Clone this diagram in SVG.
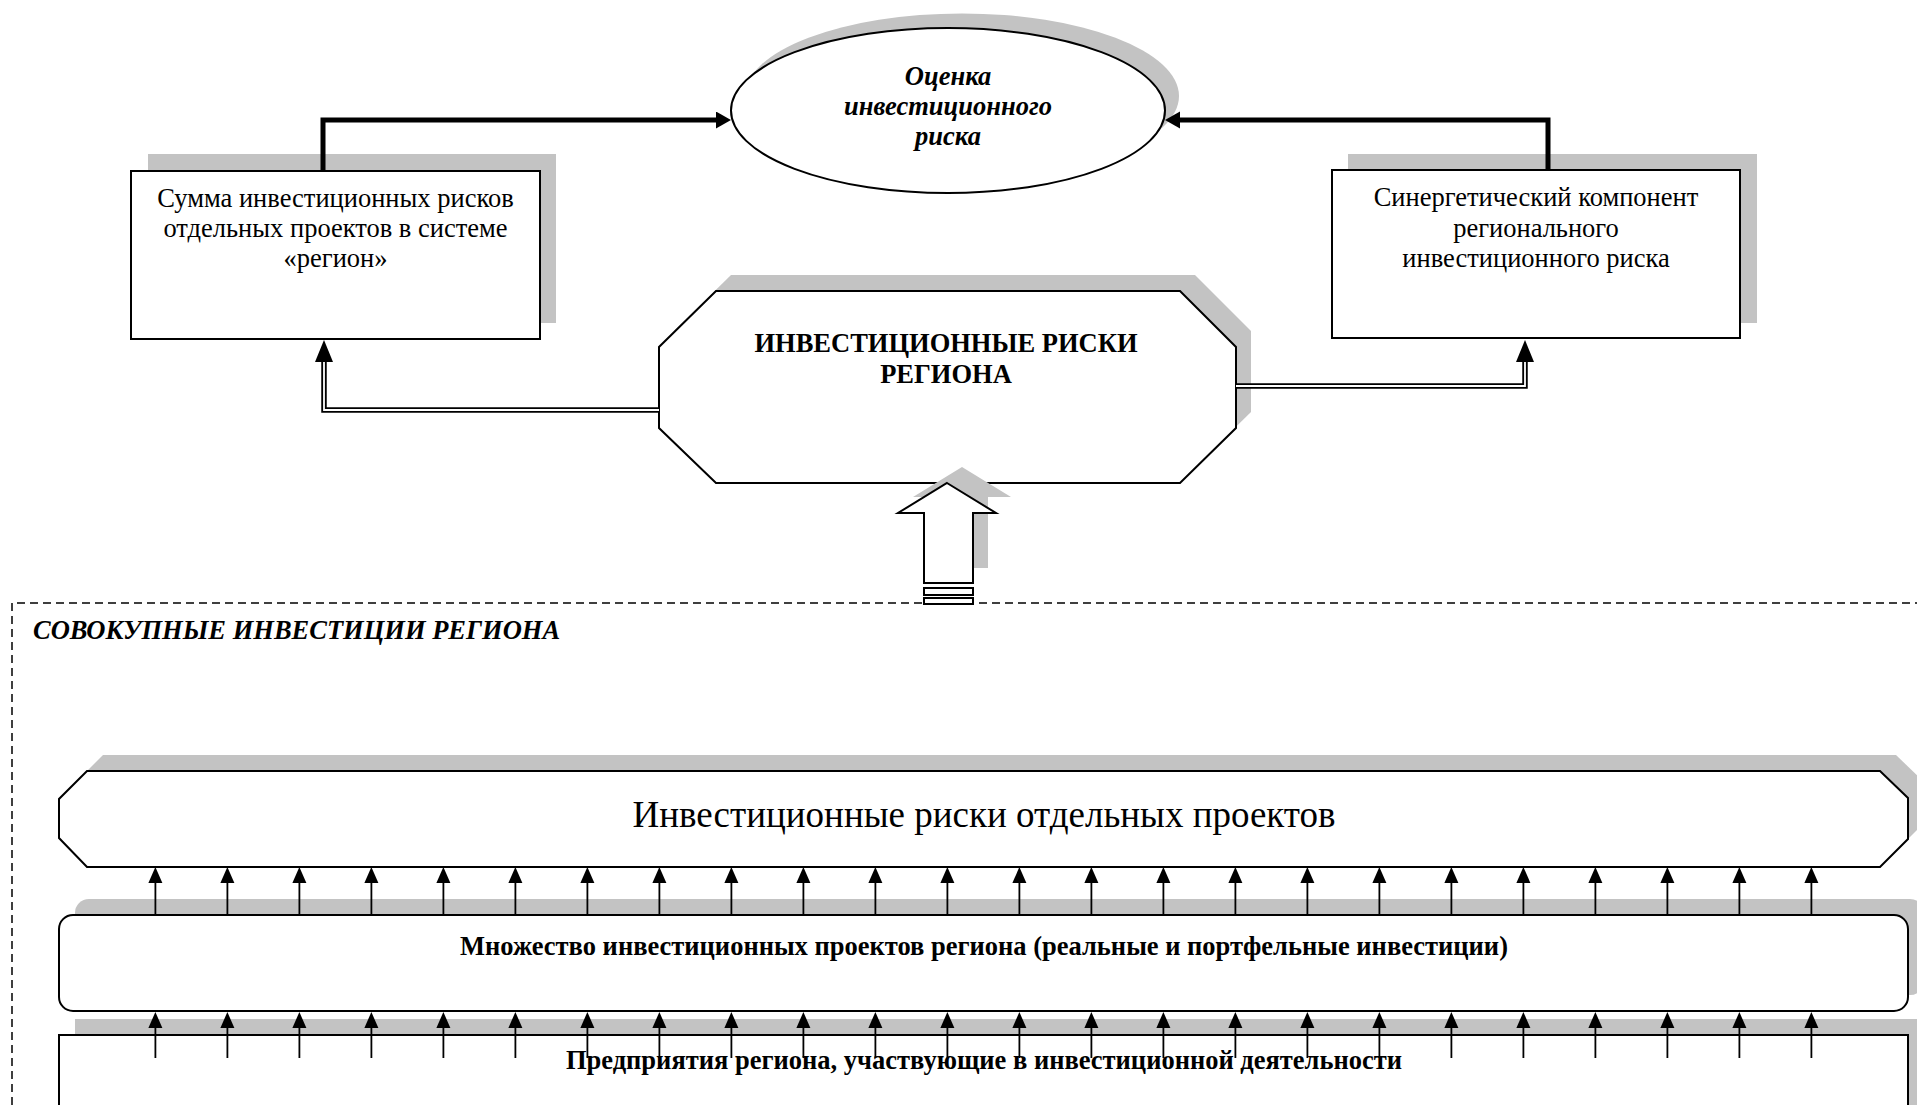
<svg xmlns="http://www.w3.org/2000/svg" width="1917" height="1105" viewBox="0 0 1917 1105">
  <defs>
    <marker id="thickHead" markerUnits="userSpaceOnUse" markerWidth="16" markerHeight="18" refX="0" refY="8.5" orient="auto">
      <path d="M0,0 L15,8.5 L0,17 z" fill="#000"/>
    </marker>
    <marker id="dblHead" markerUnits="userSpaceOnUse" markerWidth="23" markerHeight="19" refX="0" refY="9" orient="auto">
      <path d="M0,0 L22,9 L0,18 z" fill="#000"/>
    </marker>
    <marker id="smallHead" markerUnits="userSpaceOnUse" markerWidth="17" markerHeight="15" refX="0" refY="7" orient="auto">
      <path d="M0,0 L16,7 L0,14 z" fill="#000"/>
    </marker>
  </defs>
  <style>
    .shadow { fill: #c3c3c3; stroke: none; }
    .shape { fill: #fff; stroke: #000; stroke-width: 2; }
    .reg { font-family: "Liberation Serif", "Times New Roman", serif; font-size: 26.5px; fill: #000; text-anchor: middle; }
    .bold { font-family: "Liberation Serif", "Times New Roman", serif; font-size: 26.5px; font-weight: bold; fill: #000; text-anchor: middle; }
    .bi { font-family: "Liberation Serif", "Times New Roman", serif; font-size: 26.5px; font-weight: bold; font-style: italic; fill: #000; }
    .thick { fill: none; stroke: #000; stroke-width: 5; marker-end: url(#thickHead); }
    .dblOuter { fill: none; stroke: #000; stroke-width: 5.5; marker-end: url(#dblHead); }
    .dblInner { fill: none; stroke: #fff; stroke-width: 1.8; }
    .small { fill: none; stroke: #000; stroke-width: 1.8; marker-end: url(#smallHead); }
    .dashed { fill: none; stroke: #000; stroke-width: 1.5; stroke-dasharray: 8 5; }
  </style>

  <rect width="1917" height="1105" fill="#fff"/>

  <!-- container: total regional investments -->
  <g id="container">
    <path class="dashed" d="M12,1105 V603 H1930"/>
    <text class="bi" x="33" y="639">СОВОКУПНЫЕ ИНВЕСТИЦИИ РЕГИОНА</text>
  </g>

  <g id="node-assessment">
    <ellipse class="shadow" cx="962" cy="96" rx="217" ry="82.5"/>
    <ellipse class="shape" cx="948" cy="110.5" rx="217" ry="82.5"/>
    <text class="bi" text-anchor="middle" x="948" y="85">Оценка</text>
    <text class="bi" text-anchor="middle" x="948" y="115">инвестиционного</text>
    <text class="bi" text-anchor="middle" x="948" y="145">риска</text>
  </g>

  <g id="node-sum">
    <rect class="shadow" x="148" y="154" width="408" height="169"/>
    <rect class="shape" x="131" y="171" width="409" height="168"/>
    <text class="reg" x="335.5" y="207">Сумма инвестиционных рисков</text>
    <text class="reg" x="335.5" y="237">отдельных проектов в системе</text>
    <text class="reg" x="335.5" y="267">«регион»</text>
  </g>

  <g id="node-synergy">
    <rect class="shadow" x="1348" y="154" width="409" height="169"/>
    <rect class="shape" x="1332" y="170" width="408" height="168"/>
    <text class="reg" x="1536" y="206">Синергетический компонент</text>
    <text class="reg" x="1536" y="237">регионального</text>
    <text class="reg" x="1536" y="267">инвестиционного риска</text>
  </g>

  <g id="node-regional-risks">
    <polygon class="shadow" points="731,275 1195,275 1251,331 1251,412 1195,467 731,467 674,412 674,331"/>
    <polygon class="shape" points="716,291 1180,291 1236,347 1236,428 1180,483 716,483 659,428 659,347"/>
    <text class="bold" x="946" y="352">ИНВЕСТИЦИОННЫЕ РИСКИ</text>
    <text class="bold" x="946" y="383">РЕГИОНА</text>
  </g>

  <g id="node-project-risks">
    <polygon class="shadow" points="103,755 1896,755 1924,782 1924,823 1896,851 103,851 75,822 75,783"/>
    <polygon class="shape" points="87,771 1880,771 1908,798 1908,839 1880,867 87,867 59,838 59,799"/>
    <text class="reg" style="font-size:37px" x="984" y="827">Инвестиционные риски отдельных проектов</text>
  </g>

  <g id="node-projects">
    <rect class="shadow" x="75" y="899" width="1849" height="96" rx="14" ry="14"/>
    <rect class="shape" x="59" y="915" width="1849" height="96" rx="14" ry="14"/>
    <text class="bold" x="984" y="955">Множество инвестиционных проектов региона (реальные и портфельные инвестиции)</text>
  </g>

  <g id="node-enterprises">
    <rect class="shadow" x="75" y="1019" width="1849" height="120"/>
    <rect class="shape" x="59" y="1035" width="1849" height="120"/>
    <text class="bold" x="984" y="1069">Предприятия региона, участвующие в инвестиционной деятельности</text>
  </g>

  <g id="connectors">
    <!-- thick arrows to assessment -->
    <path class="thick" d="M323,171 V120 H716"/>
    <path class="thick" d="M1548,170 V120 H1180"/>
    <!-- double-line arrows from regional risks -->
    <path class="dblOuter" d="M659,410 H324 V362"/>
    <path class="dblInner" d="M659,410 H324 V362"/>
    <path class="dblOuter" d="M1236,386 H1525 V362"/>
    <path class="dblInner" d="M1236,386 H1525 V362"/>
    <!-- block arrow from total investments -->
    <g id="block-arrow">
      <polygon class="shadow" points="962,467 1011,497 988,497 988,568 939,568 939,497 913,497"/>
      <polygon class="shape" points="947,483 996,513 973,513 973,583 924,583 924,513 898,513"/>
      <rect class="shape" x="924" y="588" width="49" height="7"/>
      <rect class="shape" x="924" y="598" width="49" height="6"/>
    </g>
    <!-- arrows: projects -> project risks -->
    <g id="upper-arrows">
      <path class="small" d="M155.4,915 V883"/>
      <path class="small" d="M227.4,915 V883"/>
      <path class="small" d="M299.4,915 V883"/>
      <path class="small" d="M371.4,915 V883"/>
      <path class="small" d="M443.4,915 V883"/>
      <path class="small" d="M515.4,915 V883"/>
      <path class="small" d="M587.4,915 V883"/>
      <path class="small" d="M659.4,915 V883"/>
      <path class="small" d="M731.4,915 V883"/>
      <path class="small" d="M803.4,915 V883"/>
      <path class="small" d="M875.4,915 V883"/>
      <path class="small" d="M947.4,915 V883"/>
      <path class="small" d="M1019.4,915 V883"/>
      <path class="small" d="M1091.4,915 V883"/>
      <path class="small" d="M1163.4,915 V883"/>
      <path class="small" d="M1235.4,915 V883"/>
      <path class="small" d="M1307.4,915 V883"/>
      <path class="small" d="M1379.4,915 V883"/>
      <path class="small" d="M1451.4,915 V883"/>
      <path class="small" d="M1523.4,915 V883"/>
      <path class="small" d="M1595.4,915 V883"/>
      <path class="small" d="M1667.4,915 V883"/>
      <path class="small" d="M1739.4,915 V883"/>
      <path class="small" d="M1811.4,915 V883"/>
    </g>
    <!-- arrows: enterprises -> projects -->
    <g id="lower-arrows">
      <path class="small" d="M155.4,1058 V1028"/>
      <path class="small" d="M227.4,1058 V1028"/>
      <path class="small" d="M299.4,1058 V1028"/>
      <path class="small" d="M371.4,1058 V1028"/>
      <path class="small" d="M443.4,1058 V1028"/>
      <path class="small" d="M515.4,1058 V1028"/>
      <path class="small" d="M587.4,1058 V1028"/>
      <path class="small" d="M659.4,1058 V1028"/>
      <path class="small" d="M731.4,1058 V1028"/>
      <path class="small" d="M803.4,1058 V1028"/>
      <path class="small" d="M875.4,1058 V1028"/>
      <path class="small" d="M947.4,1058 V1028"/>
      <path class="small" d="M1019.4,1058 V1028"/>
      <path class="small" d="M1091.4,1058 V1028"/>
      <path class="small" d="M1163.4,1058 V1028"/>
      <path class="small" d="M1235.4,1058 V1028"/>
      <path class="small" d="M1307.4,1058 V1028"/>
      <path class="small" d="M1379.4,1058 V1028"/>
      <path class="small" d="M1451.4,1058 V1028"/>
      <path class="small" d="M1523.4,1058 V1028"/>
      <path class="small" d="M1595.4,1058 V1028"/>
      <path class="small" d="M1667.4,1058 V1028"/>
      <path class="small" d="M1739.4,1058 V1028"/>
      <path class="small" d="M1811.4,1058 V1028"/>
    </g>
  </g>
</svg>
